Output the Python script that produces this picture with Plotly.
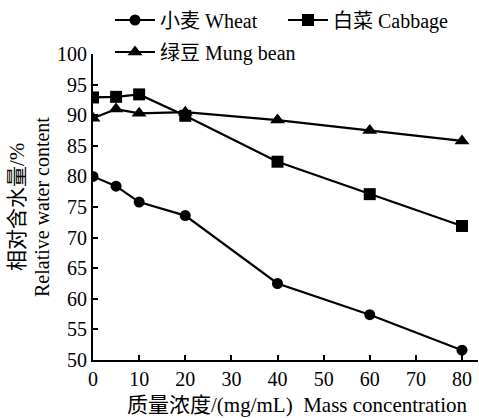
import plotly.graph_objects as go

conc = [0, 5, 10, 20, 40, 60, 80]
wheat = [80.0, 78.4, 75.8, 73.6, 62.5, 57.4, 51.6]
cabbage = [92.9, 93.0, 93.4, 89.9, 82.4, 77.1, 71.9]
mungbean = [89.5, 91.0, 90.3, 90.5, 89.2, 87.5, 85.8]

x_ticks = [0, 10, 20, 30, 40, 50, 60, 70, 80]
y_ticks = [50, 55, 60, 65, 70, 75, 80, 85, 90, 95, 100]

FONT = "Liberation Serif, Times New Roman, DejaVu Serif, Noto Sans CJK SC, serif"
F = lambda s=20: dict(family=FONT, size=s, color="black")

L, T, W, H = 93, 54, 385, 306  # plot area in window pixels

def px(x):
    return (x - L) / W

def py(y):
    return (T + H - y) / H

fig = go.Figure()
fig.add_trace(go.Scatter(x=conc, y=wheat, mode="lines+markers", name="小麦 Wheat",
                         line=dict(color="black", width=2.2),
                         marker=dict(symbol="circle", size=11, color="black"),
                         legend="legend"))
fig.add_trace(go.Scatter(x=conc, y=cabbage, mode="lines+markers", name="白菜 Cabbage",
                         line=dict(color="black", width=2.2),
                         marker=dict(symbol="square", size=12, color="black"),
                         legend="legend"))
fig.add_trace(go.Scatter(x=conc, y=mungbean, mode="lines+markers", name="绿豆 Mung bean",
                         line=dict(color="black", width=2.2),
                         marker=dict(symbol="triangle-up", size=13, color="black"),
                         legend="legend2"))

fig.update_layout(
    width=479, height=418,
    margin=dict(l=L, r=479 - L - W, t=T, b=418 - T - H, autoexpand=False),
    paper_bgcolor="white", plot_bgcolor="white",
    font=F(),
    showlegend=True,
    legend=dict(orientation="h", x=px(110), y=py(20), xanchor="left", yanchor="middle",
                bgcolor="rgba(0,0,0,0)", font=F(), entrywidth=118,
                itemwidth=40, tracegroupgap=0),
    legend2=dict(orientation="h", x=px(110), y=py(52), xanchor="left", yanchor="middle",
                 bgcolor="rgba(0,0,0,0)", font=F(), itemwidth=40),
    annotations=[
        dict(text="质量浓度/(mg/mL)  Mass concentration", xref="paper", yref="paper",
             x=px(297), y=py(405), xanchor="center", yanchor="middle", showarrow=False, font=F(21)),
        dict(text="相对含水量/%", xref="paper", yref="paper", x=px(17), y=py(207),
             xanchor="center", yanchor="middle", textangle=-90, showarrow=False, font=F(21)),
        dict(text="Relative water content", xref="paper", yref="paper", x=px(42), y=py(207),
             xanchor="center", yanchor="middle", textangle=-90, showarrow=False, font=F()),
    ],
)

fig.update_xaxes(range=[0, 80 * W / 369], tickvals=x_ticks, ticktext=[str(v) for v in x_ticks],
                 showgrid=False, zeroline=False, showline=True, linecolor="black", linewidth=2,
                 ticks="inside", ticklen=5, tickwidth=2, tickcolor="black",
                 tickfont=F())
fig.update_yaxes(range=[50, 100], tickvals=y_ticks, ticktext=[str(v) for v in y_ticks],
                 showgrid=False, zeroline=False, showline=True, linecolor="black", linewidth=2,
                 ticks="inside", ticklen=5, tickwidth=2, tickcolor="black",
                 tickfont=F())

fig.write_html("out.html", config={"displayModeBar": False},
               post_script="document.body.style.margin='0';")
